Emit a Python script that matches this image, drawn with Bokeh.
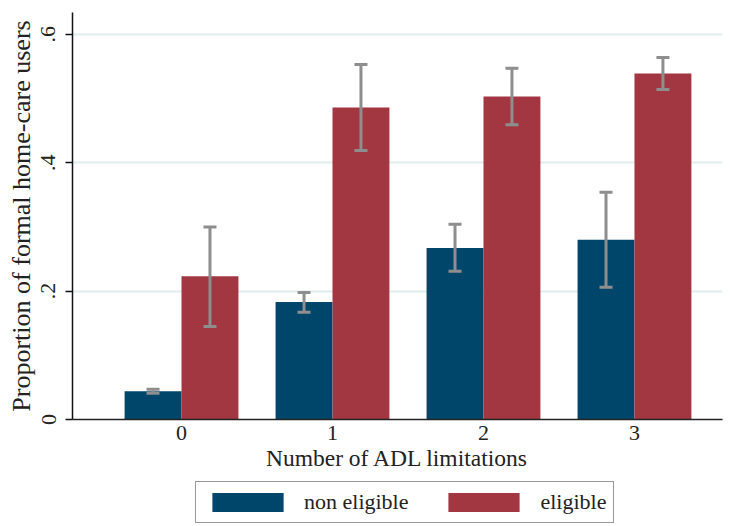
from bokeh.plotting import figure
from bokeh.layouts import column
from bokeh.models import (ColumnDataSource, FixedTicker, Range1d, Whisker, TeeHead,
                          Legend, LegendItem)
from bokeh.embed import file_html
from bokeh.resources import INLINE

categories = ["0", "1", "2", "3"]
series = ["non eligible", "eligible"]
non_eligible = [0.044, 0.183, 0.267, 0.280]
non_eligible_lo = [0.041, 0.167, 0.231, 0.206]
non_eligible_hi = [0.047, 0.198, 0.304, 0.354]
eligible = [0.223, 0.486, 0.503, 0.539]
eligible_lo = [0.145, 0.419, 0.459, 0.514]
eligible_hi = [0.300, 0.553, 0.547, 0.564]
y_ticks = [0, 0.2, 0.4, 0.6]
y_tick_labels = ["0", ".2", ".4", ".6"]

BLUE = "#00466B"
RED = "#A23742"
GRID = "#E1EEEE"
ERR = "#8E8E8E"
FONT = "Liberation Serif"

bw = 0.377
off = bw / 2
xs = list(range(len(categories)))

p = figure(frame_width=650, frame_height=407, output_backend="svg", toolbar_location=None,
           x_range=Range1d(-0.722, 3.583), y_range=Range1d(0, 0.634),
           min_border_left=72, min_border_right=14, min_border_top=12,
           min_border_bottom=60)
p.outline_line_color = None
p.background_fill_color = "white"
p.border_fill_color = "white"

src_a = ColumnDataSource(dict(x=[x - off for x in xs], top=non_eligible,
                              lo=non_eligible_lo, hi=non_eligible_hi))
src_b = ColumnDataSource(dict(x=[x + off for x in xs], top=eligible,
                              lo=eligible_lo, hi=eligible_hi))

r_a = p.vbar(x="x", top="top", width=bw, source=src_a, fill_color=BLUE, line_color=None)
r_b = p.vbar(x="x", top="top", width=bw, source=src_b, fill_color=RED, line_color=None)

for src in (src_a, src_b):
    w = Whisker(source=src, base="x", lower="lo", upper="hi", level="annotation",
                line_color=ERR, line_width=3,
                upper_head=TeeHead(size=13, line_color=ERR, line_width=3),
                lower_head=TeeHead(size=13, line_color=ERR, line_width=3))
    p.add_layout(w)

# axes
p.xgrid.grid_line_color = None
p.ygrid.grid_line_color = GRID
p.ygrid.grid_line_width = 2
p.ygrid.ticker = FixedTicker(ticks=y_ticks[1:])

p.yaxis.ticker = FixedTicker(ticks=y_ticks)
p.yaxis.major_label_overrides = {t: l for t, l in zip(y_ticks, y_tick_labels)}
p.yaxis.major_label_orientation = "vertical"
p.yaxis.axis_label = "Proportion of formal home-care users"
p.yaxis.axis_line_color = "#111111"
p.yaxis.axis_line_width = 1.5
p.yaxis.major_tick_line_color = "#111111"
p.yaxis.major_tick_line_width = 1.5
p.yaxis.major_tick_out = 7
p.yaxis.major_tick_in = 0
p.yaxis.minor_tick_line_color = None
p.yaxis.major_label_standoff = 10
p.yaxis.axis_label_standoff = 3

p.xaxis.ticker = FixedTicker(ticks=xs)
p.xaxis.major_label_overrides = {x: c for x, c in zip(xs, categories)}
p.xaxis.axis_label = "Number of ADL limitations"
p.xaxis.axis_line_color = "#222222"
p.xaxis.axis_line_width = 1.5
p.xaxis.major_tick_line_color = None
p.xaxis.minor_tick_line_color = None
p.xaxis.major_tick_out = 0
p.xaxis.major_label_standoff = 6
p.xaxis.axis_label_standoff = 2

for ax in (p.xaxis[0], p.yaxis[0]):
    ax.major_label_text_font = FONT
    ax.major_label_text_font_size = "22px"
    ax.major_label_text_color = "#222222"
    ax.axis_label_text_font = FONT
    ax.axis_label_text_font_style = "normal"
    ax.axis_label_text_color = "#222222"
p.xaxis.axis_label_text_font_size = "23.5px"
p.yaxis.axis_label_text_font_size = "26px"

# legend in its own strip below the plot (its bars fall outside its ranges)
lg = figure(width=736, height=46, output_backend="svg", toolbar_location=None,
            x_range=Range1d(100, 101), y_range=Range1d(100, 101),
            min_border=0, min_border_left=0, min_border_right=0,
            min_border_top=0, min_border_bottom=0)
lg.axis.visible = False
lg.grid.visible = False
lg.outline_line_color = None
lg.border_fill_color = "white"
la = lg.vbar(x="x", top="top", width=bw, source=src_a, fill_color=BLUE, line_color=None)
lb = lg.vbar(x="x", top="top", width=bw, source=src_b, fill_color=RED, line_color=None)

legend = Legend(items=[LegendItem(label=series[0], renderers=[la]),
                       LegendItem(label=series[1], renderers=[lb])],
                orientation="horizontal", location=(123, 2),
                glyph_width=89, glyph_height=24, label_standoff=12,
                spacing=31, padding=7, margin=0,
                label_text_font=FONT, label_text_font_size="22px",
                label_text_color="#222222",
                border_line_color="#333333", border_line_width=1,
                background_fill_color="white")
lg.add_layout(legend, "center")

layout = column(p, lg, spacing=0)
open("out.html", "w").write(file_html(layout, INLINE))
